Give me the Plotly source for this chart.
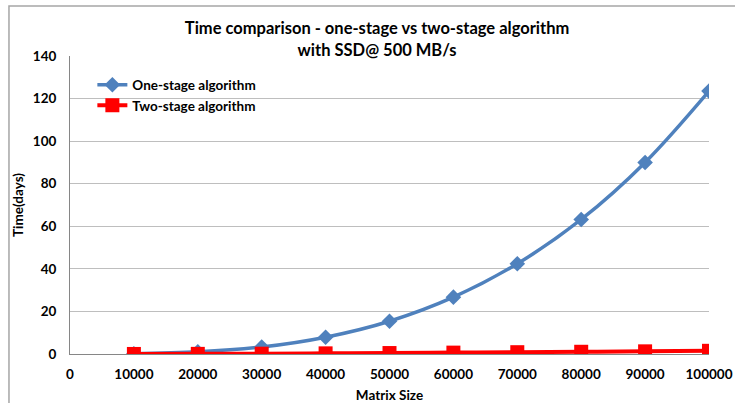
import plotly.graph_objects as go

matrix_size = [10000, 20000, 30000, 40000, 50000, 60000, 70000, 80000, 90000, 100000]
one_stage = [0.12, 1.0, 3.3, 7.9, 15.4, 26.7, 42.4, 63.2, 90.0, 123.5]
two_stage = [0.02, 0.06, 0.15, 0.3, 0.45, 0.65, 0.85, 1.05, 1.25, 1.5]
x_ticks = [0, 10000, 20000, 30000, 40000, 50000, 60000, 70000, 80000, 90000, 100000]
y_ticks = [0, 20, 40, 60, 80, 100, 120, 140]

FONT = "Lato"

fig = go.Figure()
fig.add_trace(go.Scatter(
    x=matrix_size, y=one_stage, name="<b>One-stage algorithm</b>",
    mode="lines+markers", line=dict(color="#4F81BD", width=3.5, shape="spline"),
    marker=dict(symbol="diamond", size=12, color="#4F81BD"),
))
fig.add_trace(go.Scatter(
    x=matrix_size, y=two_stage, name="<b>Two-stage algorithm</b>",
    mode="lines+markers", line=dict(color="#FF0000", width=4, shape="spline"),
    marker=dict(symbol="square", size=14, color="#FF0000", line=dict(width=0)),
))

fig.update_layout(
    width=735, height=403,
    margin=dict(l=70, r=26, t=56, b=49),
    paper_bgcolor="white", plot_bgcolor="white",
    font=dict(family=FONT, size=13, color="black"),
    title=dict(
        text="<b>Time comparison - one-stage vs two-stage algorithm<br>with SSD@ 500 MB/s</b>",
        x=0.513, xanchor="center", y=0.915, yanchor="middle",
        font=dict(family=FONT, size=16.5, color="black"),
    ),
    showlegend=True,
    legend=dict(
        x=0.035, y=0.955, xanchor="left", yanchor="top",
        bgcolor="rgba(0,0,0,0)", font=dict(family=FONT, size=13.5, color="black"),
        itemwidth=30, tracegroupgap=0,
    ),
    xaxis=dict(
        range=[0, 100000], tickmode="array", tickvals=x_ticks,
        ticktext=[f"<b>{v}</b>" for v in x_ticks],
        showgrid=False, zeroline=False, showline=True, linecolor="#868686", linewidth=1,
        ticks="outside", ticklen=8, tickcolor="rgba(0,0,0,0)", automargin=False,
        title=dict(text="<b>Matrix Size</b>", standoff=9, font=dict(size=13.5)),
        tickfont=dict(size=13.5),
    ),
    yaxis=dict(
        range=[0, 140], tickmode="array", tickvals=y_ticks,
        ticktext=[f"<b>{v}</b>" for v in y_ticks],
        showgrid=True, gridcolor="#BEBEBE", gridwidth=1,
        zeroline=False, showline=True, linecolor="#868686", linewidth=1,
        ticks="outside", ticklen=10, tickcolor="rgba(0,0,0,0)", automargin=False,
        title=dict(text="<b>Time(days)</b>", standoff=6, font=dict(size=13.5)),
        tickfont=dict(size=13.5),
    ),
    shapes=[dict(
        type="rect", xref="paper", yref="paper",
        x0=-0.0955, y0=-0.3, x1=1.2, y1=1.168,
        line=dict(color="#A6A6A6", width=1.5), layer="below",
    )],
)

fig.write_html("out.html")
